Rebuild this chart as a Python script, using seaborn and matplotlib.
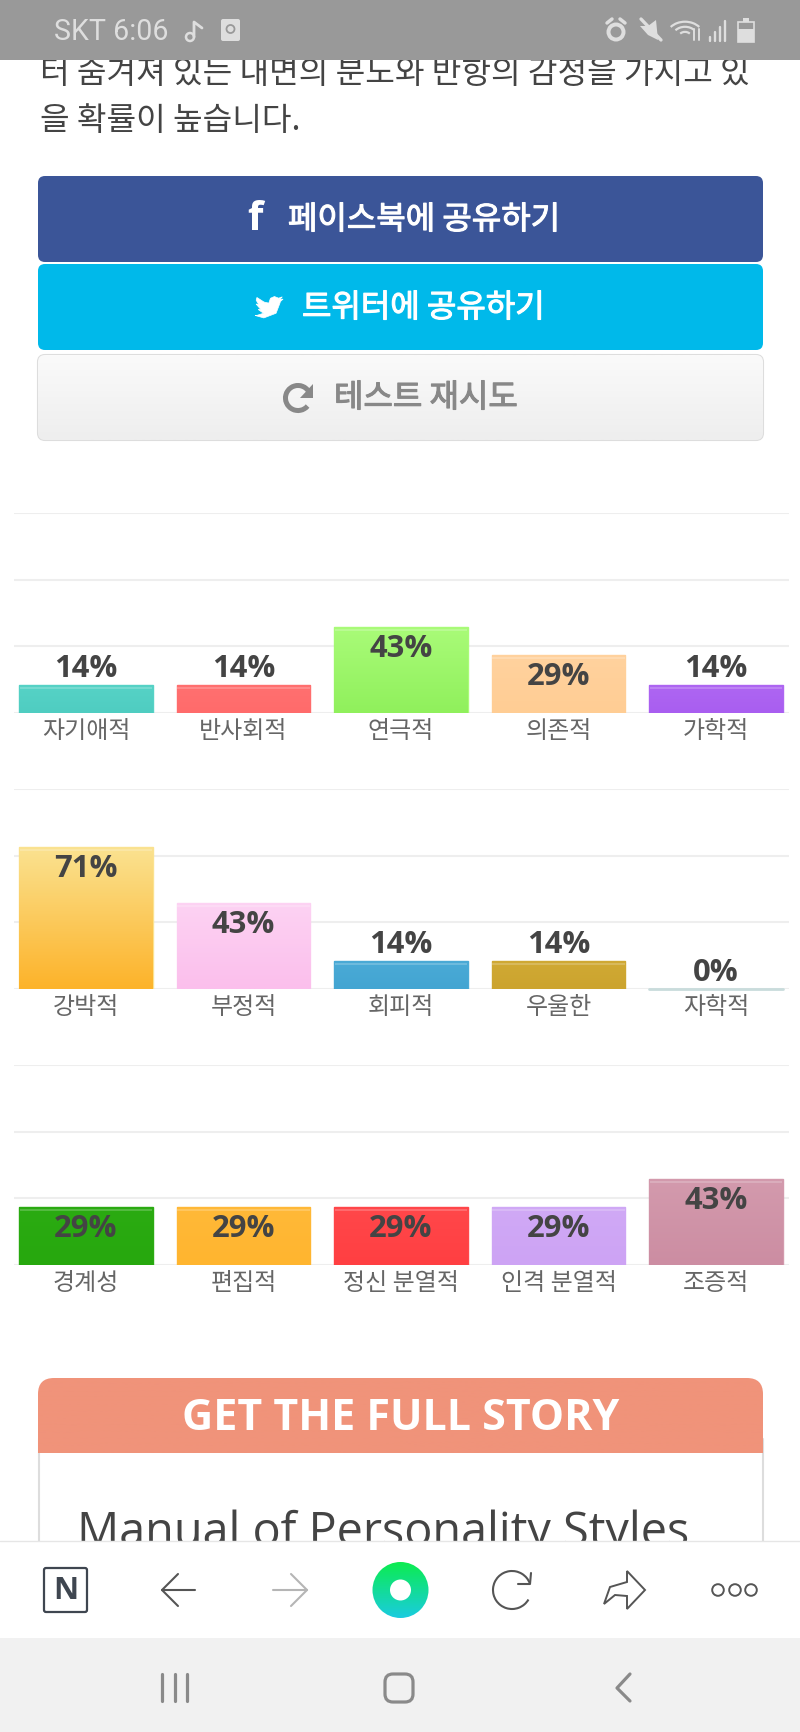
import numpy as np
import matplotlib.pyplot as plt
import matplotlib.patches as mp
import matplotlib.patheffects as pe
from matplotlib.colors import to_rgb
import seaborn as sns

W, H = 800, 1733

labels_a = ["자기애적", "반사회적", "연극적", "의존적", "가학적"]
values_a = [14, 14, 43, 29, 14]
top_a = ["#56d2c6", "#ff7070", "#a9fb78", "#ffd29e", "#ae66f2"]
bottom_a = ["#4fcdc1", "#ff6b6b", "#90f05c", "#ffcd94", "#a95ef0"]

labels_b = ["강박적", "부정적", "회피적", "우울한", "자학적"]
values_b = [71, 43, 14, 14, 0]
top_b = ["#fae290", "#fdd2f3", "#4aaad6", "#d0a934", "#c9dcdc"]
bottom_b = ["#fdb32a", "#fbbfec", "#43a5d2", "#cca42e", "#c9dcdc"]

labels_c = ["경계성", "편집적", "정신 분열적", "인격 분열적", "조증적"]
values_c = [29, 29, 29, 29, 43]
top_c = ["#2bab12", "#ffb938", "#ff474a", "#d0a9f6", "#d39aad"]
bottom_c = ["#27a80e", "#ffb52f", "#ff3f42", "#cda3f4", "#cc8da2"]

grid_ticks = [0, 33.33, 66.67, 100]
baselines = [714, 990, 1266]

sns.set_theme(style="white")
plt.rcParams["font.family"] = ["Noto Sans CJK KR", "DejaVu Sans"]

fig = plt.figure(figsize=(W / 100, H / 100), dpi=100, facecolor="white")

# page chrome, in pixel coordinates
bg = fig.add_axes([0, 0, 1, 1], zorder=0)
bg.set_xlim(0, W)
bg.set_ylim(H, 0)
bg.axis("off")


def px(v):
    return v * 0.72


def rrect(x0, y0, x1, y1, r, **kw):
    p = mp.FancyBboxPatch((x0 + r, y0 + r), x1 - x0 - 2 * r, y1 - y0 - 2 * r,
                          boxstyle=f"round,pad={r},rounding_size={r}", **kw)
    bg.add_patch(p)
    return p


def vgrad(x0, y0, x1, y1, c0, c1, clip=None, zorder=2):
    g = np.linspace(0, 1, 64)[:, None, None]
    img = (1 - g) * np.array(to_rgb(c0)) + g * np.array(to_rgb(c1))
    im = bg.imshow(img, extent=(x0, x1, y1, y0), aspect="auto", zorder=zorder)
    if clip is not None:
        im.set_clip_path(clip)
    bg.set_xlim(0, W)
    bg.set_ylim(H, 0)


def button_text(x, y, s, color):
    # the buttons use a medium weight, the regular face with a thin stroke comes close
    t = bg.text(x, y, s, fontsize=px(32), color=color, va="center", zorder=3)
    t.set_path_effects([pe.withStroke(linewidth=0.8, foreground=color)])


# page text
bg.text(40, 74, "터 숨겨져 있는 내면의 분노와 반항의 감정을 가지고 있", fontsize=px(32.2),
        color="#444444", va="center", zorder=1)
bg.text(40, 121, "을 확률이 높습니다.", fontsize=px(32.2), color="#444444", va="center", zorder=1)

# share buttons
rrect(38, 177, 763, 263, 7, fc="#3b5598", ec="none", zorder=2)
rrect(38, 265, 763, 351, 7, fc="#00b9ea", ec="none", zorder=2)
retry = rrect(38, 356, 763, 441, 7, fc="#f4f4f4", ec="#dddddd", lw=1.5, zorder=2)
vgrad(38, 356, 763, 441, "#fafafa", "#eeeeee", clip=retry)
bg.text(255, 219, "f", fontsize=px(40), color="white", family="Open Sans", weight="bold",
        ha="center", va="center", zorder=3)
button_text(288, 221, "페이스북에 공유하기", "white")
bird = np.array([(24, 4.6), (21.1, 5.35), (23.3, 2.6), (20.2, 3.8), (16.6, 2.3), (13.2, 3.9), (11.8, 8.3),
                 (7.7, 7.3), (1.64, 3.16), (1, 5.6), (3.2, 9.7), (0.9, 9.1), (4.9, 14), (2.7, 14.1),
                 (7.3, 17.5), (1.2, 19.6), (0, 19.5), (7.55, 21.75), (18, 17.5), (21.5, 7.8), (21.5, 7.1)])
bg.add_patch(mp.Polygon(bird * [1.17, 1.1] + [255, 295], fc="white", ec="white", lw=0.5, zorder=3))
button_text(302, 309, "트위터에 공유하기", "white")
bg.add_patch(mp.Arc((298, 399), 25, 25, theta1=-320, theta2=-10, lw=3.6, color="#888888", zorder=3))
bg.add_patch(mp.Polygon([(313, 385), (313, 399), (300, 399)], fc="#888888", ec="none", zorder=3))
button_text(334, 399, "테스트 재시도", "#888888")

# footer card
bg.plot([39, 39], [1440, 1545], color="#dddddd", lw=1.5, zorder=1)
bg.plot([763, 763], [1440, 1545], color="#dddddd", lw=1.5, zorder=1)
head = rrect(38, 1379, 763, 1480, 16, fc="none", ec="none", zorder=2)
vgrad(38, 1379, 763, 1454, "#f0937a", "#f0937a", clip=head)
bg.text(401, 1419, "GET THE FULL STORY", fontsize=px(43), color="white", family="Open Sans",
        weight="bold", ha="center", va="center", zorder=3)
bg.text(77, 1546, "Manual of Personality Styles", fontsize=px(46.8), color="#444444", family="Open Sans",
        va="baseline", zorder=3)

# status bar
bg.add_patch(mp.Rectangle((0, 0), W, 61, fc="#999999", ec="none", zorder=5))
bg.text(54, 32, "SKT 6:06", fontsize=px(28.5), color="#dedede", family="Roboto", va="center", zorder=6)
sc = "#dedede"
bg.add_patch(mp.Circle((190, 38), 4, fc="none", ec=sc, lw=1.8, zorder=6))
bg.plot([194, 194, 202], [38, 23, 29], color=sc, lw=2, zorder=6)
rrect(221, 20, 240, 42, 2, fc=sc, ec="none", zorder=6)
bg.add_patch(mp.Circle((230.5, 30), 4, fc="none", ec="#999999", lw=1.3, zorder=7))
bg.add_patch(mp.Circle((616, 33), 9.5, fc=sc, ec="none", zorder=6))
bg.add_patch(mp.Circle((616, 33), 5.5, fc="#999999", ec="none", zorder=7))
bg.plot([607, 612], [24, 20], color=sc, lw=2.5, zorder=6)
bg.plot([625, 620], [24, 20], color=sc, lw=2.5, zorder=6)
bg.add_patch(mp.Polygon([(640, 27), (648, 27), (656, 21), (658, 41), (648, 36)], fc=sc, ec="none", zorder=6))
bg.plot([641, 661], [20, 41], color=sc, lw=2.4, zorder=6)
for r in (6, 12, 18):
    bg.add_patch(mp.Arc((685, 38), r * 2.1, r * 1.7, theta1=215, theta2=325, color=sc, lw=1.6, zorder=6))
bg.plot([694, 694], [30, 41], color=sc, lw=1.4, zorder=6)
bg.plot([699, 699], [30, 41], color=sc, lw=1.4, zorder=6)
for xs, ys in zip([710, 715, 720, 725], [38, 33, 28, 22]):
    bg.plot([xs, xs], [ys, 42], color=sc, lw=1.7, zorder=6)
bg.add_patch(mp.Rectangle((738, 23), 16, 20, fc="none", ec=sc, lw=1.2, zorder=6))
bg.add_patch(mp.Rectangle((738, 30), 16, 13, fc=sc, ec="none", zorder=6))
bg.add_patch(mp.Rectangle((743, 19), 6, 4, fc=sc, ec="none", zorder=6))

# browser bar
bg.add_patch(mp.Rectangle((0, 1542), W, 97, fc="white", ec="none", zorder=5))
bg.plot([0, W], [1542, 1542], color="#e6e6e6", lw=1, zorder=6)
bg.add_patch(mp.Rectangle((0, 1639), W, 94, fc="#f1f1f1", ec="none", zorder=5))
ic = "#3f4650"
rrect(44, 1569, 87, 1613, 2, fc="white", ec=ic, lw=1.6, zorder=6)
bg.text(65.5, 1591, "N", fontsize=px(31), color=ic, family="Open Sans", weight="bold",
        ha="center", va="center", zorder=7)
bg.plot([178, 162, 178], [1575, 1591, 1607], color="#555555", lw=1.5, zorder=6)
bg.plot([162, 195], [1591, 1591], color="#555555", lw=1.5, zorder=6)
bg.plot([291, 307, 291], [1575, 1591, 1607], color="#b5b5b5", lw=1.5, zorder=6)
bg.plot([273, 307], [1591, 1591], color="#b5b5b5", lw=1.5, zorder=6)
ring = mp.Circle((400.5, 1591), 28, transform=bg.transData, fc="none", ec="none")
bg.add_patch(ring)
vgrad(372, 1563, 429, 1619, "#0cec50", "#1accdf", clip=ring, zorder=6)
bg.add_patch(mp.Circle((400.5, 1591), 10.5, fc="white", ec="none", zorder=7))
bg.add_patch(mp.Arc((512, 1591), 38, 38, theta1=-330, theta2=-20, color="#555555", lw=1.5, zorder=6))
bg.plot([518, 530, 531], [1585, 1585, 1574], color="#555555", lw=1.5, zorder=6)
bg.add_patch(mp.Polygon([(604, 1605), (610, 1588), (627, 1583), (627, 1572), (645, 1591), (627, 1610),
                         (627, 1597), (615, 1596)], fc="white", ec="#555555", lw=1.4, zorder=6))
for cx in (718, 735, 751):
    bg.add_patch(mp.Circle((cx, 1591), 5.8, fc="white", ec="#555555", lw=1.4, zorder=6))
nc = "#8a8a8a"
for lx in (162, 175, 187):
    bg.plot([lx, lx], [1675, 1702], color=nc, lw=2.3, zorder=6)
rrect(385, 1675, 413, 1703, 8, fc="none", ec=nc, lw=2.3, zorder=6)
bg.plot([630, 617, 630], [1675, 1689, 1702], color=nc, lw=2.3, zorder=6)


def bar_row(labels, values, tops, bottoms, base):
    ax = fig.add_axes([14 / W, 1 - base / H, 775 / W, 200 / H], zorder=2)
    ax.patch.set_alpha(0)
    sns.barplot(x=labels, y=values, hue=labels, palette=tops, legend=False, width=0.85,
                saturation=1, ax=ax)
    ax.set_yticks(grid_ticks)
    ax.set_yticklabels([])
    ax.grid(True, axis="y", color="#eeeeee", lw=1.5)
    ax.set_axisbelow(True)
    sns.despine(ax=ax, left=True, bottom=True, top=True, right=True)
    ax.tick_params(axis="both", length=0)
    ax.tick_params(axis="x", pad=4, labelsize=px(24), labelcolor="#666666")
    for bar, val, c0, c1 in zip(ax.patches, values, tops, bottoms):
        x, w, h = bar.get_x(), bar.get_width(), bar.get_height()
        bar.set_edgecolor(c0)
        bar.set_linewidth(1)
        if val > 0:
            g = np.linspace(0, 1, 64)[:, None, None]
            img = (1 - g) * np.array(to_rgb(c0)) + g * np.array(to_rgb(c1))
            ax.imshow(img, extent=(x, x + w, 0, h), aspect="auto", zorder=3)
            ax.add_patch(mp.Rectangle((x + 0.005, h - 2), w - 0.01, 1.2, fc="white", ec="none",
                                      alpha=0.2, zorder=4))
        else:
            # a zero bar has no area, only its edge shows
            ax.plot([x, x + w], [h, h], color=c0, lw=2, clip_on=False, zorder=4)
        inside = val >= 20
        ax.annotate(f"{val}%", (x + w / 2, h), xytext=(0, px(-21) if inside else px(17)),
                    textcoords="offset points", ha="center", va="center", fontsize=px(31),
                    family="Open Sans", weight="bold", color="#444444", zorder=5)
    ax.set_xlim(-0.457, 4.463)
    ax.set_ylim(0, 100)


for row, base in zip([(labels_a, values_a, top_a, bottom_a),
                      (labels_b, values_b, top_b, bottom_b),
                      (labels_c, values_c, top_c, bottom_c)], baselines):
    bar_row(*row, base)

fig.savefig("out.png", dpi=100)
